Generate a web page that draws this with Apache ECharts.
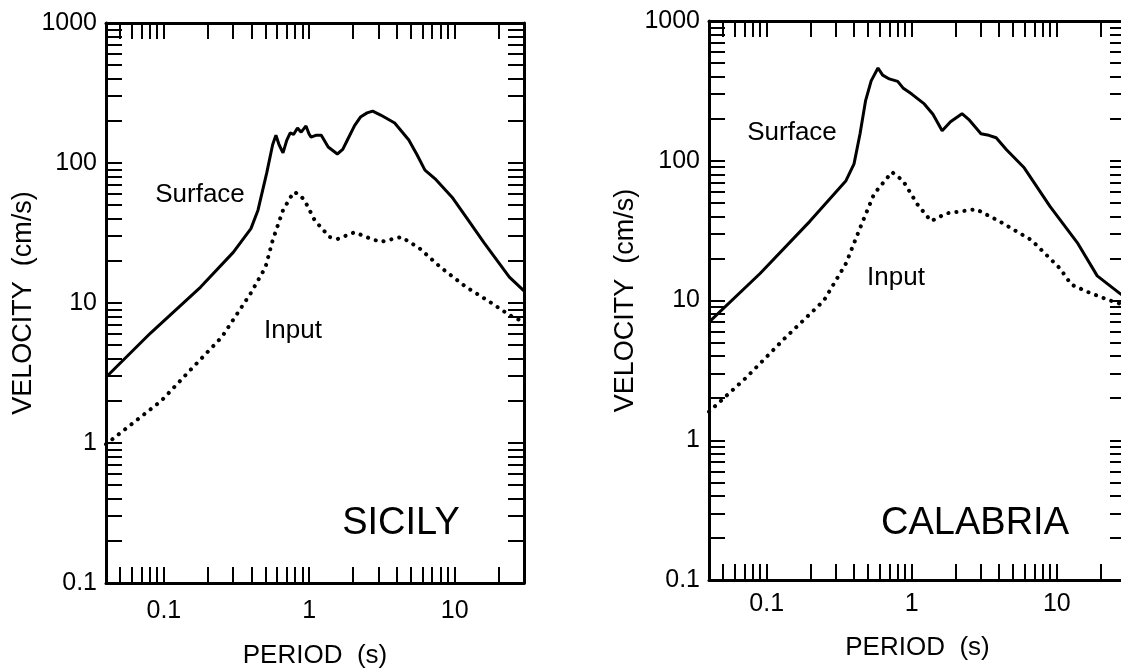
<!DOCTYPE html>
<html><head><meta charset="utf-8">
<script src="https://cdn.jsdelivr.net/npm/echarts@6/dist/echarts.min.js"></script>
<style>html,body{margin:0;padding:0;background:#fff}#c{width:1121px;height:668px}</style>
</head><body><div id="c"></div>
<script>
// ---- data ----
const xTickValues = [0.1, 1, 10];
const xTickLabels = ['0.1', '1', '10'];
const yTickValues = [0.1, 1, 10, 100, 1000];
const yTickLabels = ['0.1', '1', '10', '100', '1000'];
const panelTitles = ['SICILY', 'CALABRIA'];

const sicilySurfaceT = [0.04, 0.081, 0.179, 0.30, 0.397, 0.444, 0.51, 0.56, 0.59, 0.62, 0.66, 0.70, 0.74, 0.78, 0.83, 0.88, 0.95, 1.0, 1.03, 1.12, 1.21, 1.35, 1.56, 1.7, 1.83, 2.05, 2.25, 2.5, 2.73, 3.1, 3.87, 4.84, 5.5, 6.25, 7.45, 9.6, 12, 16, 23.8, 30];
const sicilySurfaceV = [2.95, 6.1, 13, 23, 34, 46, 85, 135, 158, 135, 118, 145, 164, 160, 178, 166, 184, 160, 153, 158, 158, 130, 116, 125, 146, 185, 213, 228, 235, 220, 193, 146, 115, 89, 76, 57, 41, 26.8, 15.3, 12.2];

const sicilyInputT = [0.04, 0.096, 0.15, 0.25, 0.397, 0.50, 0.56, 0.66, 0.78, 0.85, 0.93, 1.09, 1.38, 1.57, 2.05, 2.6, 3.1, 4.3, 5.7, 8.0, 12, 17.4, 23.8, 30];
const sicilyInputV = [0.98, 2.0, 3.27, 5.7, 11.8, 18, 28, 46, 62, 60, 54, 39, 29.6, 28.7, 32, 29, 27.3, 29.6, 24.7, 18, 13, 10.2, 8.2, 7.3];

const calabriaSurfaceT = [0.04, 0.090, 0.199, 0.352, 0.40, 0.44, 0.48, 0.525, 0.585, 0.63, 0.70, 0.80, 0.87, 1.0, 1.22, 1.4, 1.62, 1.85, 2.22, 2.5, 3.0, 3.4, 3.82, 4.5, 5.96, 9, 14, 19, 27.3, 30];
const calabriaSurfaceV = [7.0, 15.6, 37, 72, 95, 156, 268, 373, 461, 410, 385, 370, 332, 300, 255, 215, 164, 190, 217, 195, 156, 152, 146, 120, 89, 47, 25.5, 15, 11.2, 10.5];

const calabriaInputT = [0.04, 0.072, 0.134, 0.248, 0.352, 0.44, 0.55, 0.73, 0.87, 1.09, 1.36, 1.73, 2.78, 4.0, 6.7, 10.5, 12.6, 16.7, 23.3, 30];
const calabriaInputV = [1.6, 2.8, 5.4, 10, 18.4, 33, 58, 83, 72, 49, 37, 42, 45, 37, 27, 17, 13, 11.4, 10, 9.2];

// ---- chart ----
const FONT = 'Liberation Sans';
const pair = (t, v) => t.map((x, i) => [x, v[i]]);
function labelFrom(vals, labels) {
  return function (v) {
    for (let i = 0; i < vals.length; i++) {
      if (Math.abs(Math.log10(v) - Math.log10(vals[i])) < 1e-6) return labels[i];
    }
    return '';
  };
}
const tickStyle = {color: '#000', width: 2};
function xAx(grid, pos, nameGap, margin) {
  const main = pos === 'bottom';
  return {
    type: 'log', logBase: 10, gridIndex: grid, position: pos, min: 0.04, max: 30,
    axisLine: {onZero: false, lineStyle: {color: '#000', width: 3}},
    axisTick: {inside: true, length: 16, lineStyle: tickStyle},
    minorTick: {show: true, splitNumber: 9, length: 16, lineStyle: tickStyle},
    splitLine: {show: false}, minorSplitLine: {show: false},
    axisLabel: {show: main, formatter: labelFrom(xTickValues, xTickLabels), color: '#000', fontSize: 25, fontFamily: FONT, margin: margin || 14,
      showMinLabel: false, showMaxLabel: false},
    name: main ? 'PERIOD  (s)' : '', nameLocation: 'middle', nameGap: nameGap,
    nameTextStyle: {color: '#000', fontSize: 26, fontFamily: FONT}
  };
}
function yAx(grid, pos, nameGap) {
  const main = pos === 'left';
  return {
    type: 'log', logBase: 10, gridIndex: grid, position: pos, min: 0.1, max: 1000,
    axisLine: {onZero: false, lineStyle: {color: '#000', width: 3}},
    axisTick: {inside: true, length: 16, lineStyle: tickStyle},
    minorTick: {show: true, splitNumber: 9, length: 16, lineStyle: tickStyle},
    splitLine: {show: false}, minorSplitLine: {show: false},
    axisLabel: {show: main, formatter: labelFrom(yTickValues, yTickLabels), color: '#000', fontSize: 25, fontFamily: FONT, margin: 9},
    name: main ? 'VELOCITY  (cm/s)' : '', nameLocation: 'middle', nameGap: nameGap,
    nameTextStyle: {color: '#000', fontSize: 27, fontFamily: FONT}
  };
}
function solid(data, xi, yi) {
  return {type: 'line', data: data, xAxisIndex: xi, yAxisIndex: yi, symbol: 'none', smooth: false,
    lineStyle: {color: '#000', width: 3}, z: 3};
}
function dotted(data, xi, yi) {
  return {type: 'line', data: data, xAxisIndex: xi, yAxisIndex: yi, symbol: 'none', smooth: false,
    lineStyle: {color: '#000', width: 4, type: [0.1, 8], cap: 'round'}, z: 3};
}
function txt(x, y, s, size) {
  return {type: 'text', x: x, y: y, z: 10,
    style: {text: s, align: 'center', verticalAlign: 'middle', fontSize: size, fontFamily: FONT, fill: '#000'}};
}

const chart = echarts.init(document.getElementById('c'), null, {renderer: 'canvas'});
chart.setOption({
  animation: false,
  backgroundColor: '#fff',
  grid: [
    {left: 106, top: 23, width: 418, height: 560, outerBoundsMode: 'none', containLabel: false},
    {left: 709, top: 21, width: 417, height: 559, outerBoundsMode: 'none', containLabel: false}
  ],
  xAxis: [xAx(0, 'bottom', 60, 16), xAx(0, 'top', 0), xAx(1, 'bottom', 55, 12), xAx(1, 'top', 0)],
  yAxis: [yAx(0, 'left', 68), yAx(0, 'right', 0), yAx(1, 'left', 70), yAx(1, 'right', 0)],
  series: [
    solid(pair(sicilySurfaceT, sicilySurfaceV), 0, 0),
    dotted(pair(sicilyInputT, sicilyInputV), 0, 0),
    solid(pair(calabriaSurfaceT, calabriaSurfaceV), 2, 2),
    dotted(pair(calabriaInputT, calabriaInputV), 2, 2)
  ],
  graphic: [
    txt(200, 195, 'Surface', 26),
    txt(293, 331, 'Input', 26),
    txt(401, 524, panelTitles[0], 38),
    txt(792, 133, 'Surface', 26),
    txt(896, 278, 'Input', 26),
    txt(975, 524, panelTitles[1], 38)
  ]
});
</script>
</body></html>
